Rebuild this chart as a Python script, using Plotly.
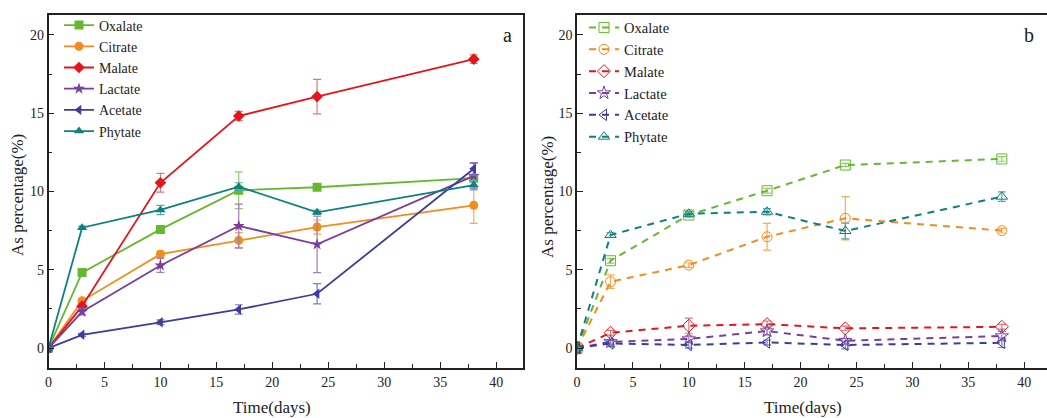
import plotly.graph_objects as go

# ---------------- data ----------------
days = [0, 3, 10, 17, 24, 38]
names = ["Oxalate", "Citrate", "Malate", "Lactate", "Acetate", "Phytate"]
colors = ["#66b82e", "#f28c1c", "#e4161c", "#7a3f9c", "#3d3d9c", "#0d8080"]
err_colors = ["#8fcf66", "#f5ac5a", "#e0777a", "#a37bbf", "#7c7cc0", "#5aa9a9"]
symbols_a = ["square", "circle", "diamond", "star", "triangle-left", "triangle-up"]
symbols_b = ["square-open", "circle-open", "diamond-open", "star-open", "triangle-left-open", "triangle-up-open"]

# panel a (solid lines)
a_oxalate = [0, 4.82, 7.58, 10.08, 10.27, 10.85]
a_citrate = [0, 3.02, 6.0, 6.88, 7.73, 9.12]
a_malate = [0, 2.68, 10.56, 14.82, 16.06, 18.45]
a_lactate = [0, 2.32, 5.28, 7.80, 6.62, 11.0]
a_acetate = [0, 0.85, 1.65, 2.47, 3.47, 11.45]
a_phytate = [0, 7.69, 8.82, 10.31, 8.67, 10.41]

a_oxalate_err = [0.05, 0.15, 0.15, 1.17, 0.15, 0.2]
a_citrate_err = [0.05, 0.15, 0.2, 0.5, 0.45, 1.15]
a_malate_err = [0.05, 0.15, 0.6, 0.3, 1.1, 0.27]
a_lactate_err = [0.05, 0.2, 0.45, 1.4, 1.8, 0.8]
a_acetate_err = [0.05, 0.1, 0.15, 0.3, 0.65, 0.4]
a_phytate_err = [0.05, 0.1, 0.3, 0.25, 0.15, 0.3]

# panel b (dashed lines)
b_oxalate = [0, 5.58, 8.5, 10.05, 11.69, 12.08]
b_citrate = [0, 4.24, 5.3, 7.11, 8.29, 7.5]
b_malate = [0, 0.98, 1.43, 1.53, 1.26, 1.36]
b_lactate = [0, 0.4, 0.58, 1.09, 0.47, 0.77]
b_acetate = [0, 0.3, 0.2, 0.36, 0.2, 0.34]
b_phytate = [0, 7.22, 8.58, 8.71, 7.48, 9.67]

b_oxalate_err = [0.05, 0.15, 0.15, 0.15, 0.1, 0.15]
b_citrate_err = [0.05, 0.43, 0.15, 0.85, 1.38, 0.15]
b_malate_err = [0.05, 0.15, 0.48, 0.2, 0.15, 0.15]
b_lactate_err = [0.05, 0.15, 0.2, 0.25, 0.15, 0.3]
b_acetate_err = [0.05, 0.2, 0.2, 0.15, 0.25, 0.3]
b_phytate_err = [0.05, 0.15, 0.15, 0.2, 0.5, 0.3]

series_a = [a_oxalate, a_citrate, a_malate, a_lactate, a_acetate, a_phytate]
errs_a = [a_oxalate_err, a_citrate_err, a_malate_err, a_lactate_err, a_acetate_err, a_phytate_err]
series_b = [b_oxalate, b_citrate, b_malate, b_lactate, b_acetate, b_phytate]
errs_b = [b_oxalate_err, b_citrate_err, b_malate_err, b_lactate_err, b_acetate_err, b_phytate_err]

x_ticks = [0, 5, 10, 15, 20, 25, 30, 35, 40]
y_ticks = [0, 5, 10, 15, 20]

FONT = "Liberation Serif, Times New Roman, serif"
W, H = 1047, 418

fig = go.Figure()

for i in range(6):
    fig.add_trace(go.Scatter(
        x=days, y=series_a[i], name=names[i], mode="lines+markers",
        line=dict(color=colors[i], width=1.8),
        marker=dict(symbol=symbols_a[i], size=9, color=colors[i], line=dict(width=0)),
        error_y=dict(type="data", array=errs_a[i], color=err_colors[i], thickness=1.2, width=4),
        xaxis="x", yaxis="y", legend="legend",
    ))

for i in range(6):
    fig.add_trace(go.Scatter(
        x=days, y=series_b[i], name=names[i], mode="lines+markers",
        line=dict(color=colors[i], width=2, dash="7px,6px"),
        marker=dict(symbol=symbols_b[i], size=10, color=colors[i], line=dict(width=1)),
        error_y=dict(type="data", array=errs_b[i], color=err_colors[i], thickness=1.2, width=4),
        xaxis="x2", yaxis="y2", legend="legend2",
    ))

def px_x(p):
    return p / W

def px_y(p):
    return 1 - p / H

left_dom = [px_x(48.5), px_x(523)]
right_dom = [px_x(577), 1.0]
y_dom = [px_y(368), px_y(15)]

axis_common = dict(
    showgrid=False, zeroline=False, showline=True, linecolor="#222", linewidth=1.5,
    ticks="inside", ticklen=6, tickwidth=1.2, tickcolor="#222",
    tickfont=dict(family=FONT, size=14, color="#222"),
    minor=dict(ticks="inside", ticklen=4, tickwidth=1.2, tickcolor="#222", dtick=2.5, showgrid=False),
    automargin=False,
)

fig.update_layout(
    width=W, height=H,
    margin=dict(l=0, r=0, t=0, b=0),
    paper_bgcolor="white", plot_bgcolor="white",
    xaxis=dict(domain=left_dom, range=[0, 42.4], tickvals=x_ticks, mirror=True, anchor="y", **axis_common),
    yaxis=dict(domain=y_dom, range=[-1.27, 21.27], tickvals=y_ticks, mirror=True, anchor="x", **axis_common),
    xaxis2=dict(domain=right_dom, range=[0, 42.04], tickvals=x_ticks, mirror=True, anchor="y2", **axis_common),
    yaxis2=dict(domain=y_dom, range=[-1.27, 21.27], tickvals=y_ticks, mirror=False, anchor="x2", **axis_common),
    legend=dict(x=px_x(59), y=px_y(9.5), xanchor="left", yanchor="top", bgcolor="rgba(0,0,0,0)",
                font=dict(family=FONT, size=14, color="#222"), tracegroupgap=0),
    legend2=dict(x=px_x(584), y=px_y(11.5), xanchor="left", yanchor="top", bgcolor="rgba(0,0,0,0)",
                 font=dict(family=FONT, size=14.5, color="#222"), tracegroupgap=0),
    showlegend=True,
)

annotations = [
    dict(text="a", x=px_x(507), y=px_y(35), font=dict(family=FONT, size=20, color="#222")),
    dict(text="b", x=px_x(1029), y=px_y(35), font=dict(family=FONT, size=20, color="#222")),
    dict(text="Time(days)", x=px_x(272), y=px_y(407), font=dict(family=FONT, size=17, color="#222")),
    dict(text="Time(days)", x=px_x(803), y=px_y(407), font=dict(family=FONT, size=17, color="#222")),
    dict(text="As percentage(%)", x=px_x(18), y=px_y(195), textangle=-90, font=dict(family=FONT, size=17, color="#222")),
    dict(text="As percentage(%)", x=px_x(547), y=px_y(197), textangle=-90, font=dict(family=FONT, size=17, color="#222")),
]
for a in annotations:
    a.update(xref="paper", yref="paper", showarrow=False, xanchor="center", yanchor="middle")
fig.update_layout(annotations=annotations)

fig.write_html("out.html", config={"displayModeBar": False},
               post_script="document.body.style.margin='0';")
